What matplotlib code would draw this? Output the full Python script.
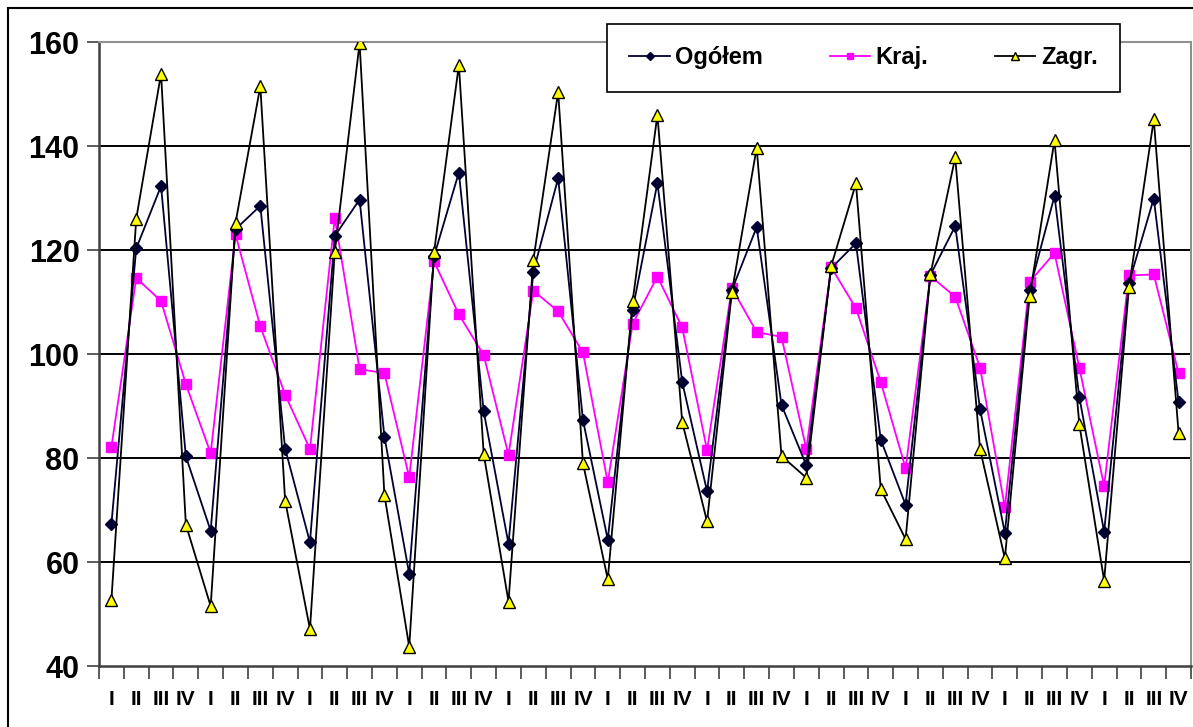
import matplotlib
matplotlib.use("Agg")
import matplotlib.pyplot as plt
from matplotlib.patches import Rectangle
import numpy as np

quarters = ["I", "II", "III", "IV"] * 11

ogolem = [67.3, 120.3, 132.3, 80.3, 66.0, 124.0, 128.5, 81.8, 63.8, 122.7, 129.7, 84.1,
          57.7, 118.8, 134.9, 89.0, 63.5, 115.8, 133.8, 87.3, 64.3, 108.5, 132.9, 94.6,
          73.6, 112.3, 124.4, 90.2, 78.6, 116.5, 121.3, 83.5, 71.0, 115.2, 124.6, 89.4,
          65.6, 112.4, 130.4, 91.7, 65.8, 113.7, 129.9, 90.8]

kraj = [82.1, 114.6, 110.2, 94.2, 80.9, 123.0, 105.3, 92.2, 81.7, 126.2, 97.1, 96.3,
        76.3, 117.8, 107.6, 99.8, 80.6, 112.2, 108.2, 100.3, 75.3, 105.8, 114.9, 105.1,
        81.5, 112.7, 104.2, 103.3, 81.7, 116.7, 108.8, 94.6, 78.0, 115.0, 111.0, 97.4,
        70.5, 113.9, 119.4, 97.4, 74.6, 115.1, 115.3, 96.3]

zagr = [52.7, 126.0, 153.9, 67.2, 51.5, 125.2, 151.5, 71.8, 47.1, 119.6, 159.8, 72.9,
        43.7, 119.6, 155.6, 80.8, 52.4, 118.0, 150.4, 79.0, 56.7, 110.1, 146.0, 86.9,
        67.8, 111.9, 139.7, 80.4, 76.2, 116.9, 132.8, 74.0, 64.4, 115.3, 137.8, 81.7,
        60.7, 111.2, 141.1, 86.5, 56.4, 112.8, 145.1, 84.8]

series_names = ["Ogółem", "Kraj.", "Zagr."]
y_ticks = [40, 60, 80, 100, 120, 140, 160]

W, H = 1193, 727
fig = plt.figure(figsize=(W / 100, H / 100), dpi=100)
ax = fig.add_axes([99 / W, 1 - 666 / H, (1191 - 99) / W, (666 - 42) / H])

x = np.arange(len(quarters))

ax.plot(x, ogolem, color="#000033", lw=1.3, marker="D", ms=6.5,
        mfc="#000033", mec="#000033", label=series_names[0], zorder=4)
ax.plot(x, kraj, color="#FF00FF", lw=1.3, marker="s", ms=6.5,
        mfc="#FF00FF", mec="#FF00FF", label=series_names[1], zorder=3)
ax.plot(x, zagr, color="black", lw=1.3, marker="^", ms=8,
        mfc="#FFFF00", mec="black", mew=1.0, label=series_names[2], zorder=5)

ax.set_xlim(-0.5, len(quarters) - 0.5)
ax.set_ylim(40, 160)

for v in y_ticks[1:-1]:
    ax.axhline(v, color="black", lw=1.4, zorder=1)

ax.set_yticks(y_ticks)
ax.set_yticklabels([str(v) for v in y_ticks], fontsize=22, fontweight="bold",
                   family=["Liberation Sans", "DejaVu Sans"])
ax.tick_params(axis="y", length=9, width=1.2, color="#404040", pad=5)

ax.set_xticks(np.arange(-0.5, len(quarters), 1.0))
ax.set_xticklabels([])
ax.tick_params(axis="x", which="major", length=9, width=1.2, color="#404040")
ax.set_xticks(x, minor=True)
ax.set_xticklabels(quarters, minor=True, fontsize=15, fontweight="bold",
                   family=["Liberation Sans Narrow", "Liberation Sans", "DejaVu Sans"])
ax.tick_params(axis="x", which="minor", length=0, pad=17)

for s in ["left", "bottom"]:
    ax.spines[s].set_color("#404040")
    ax.spines[s].set_linewidth(1.8)
for s in ["top", "right"]:
    ax.spines[s].set_color("#909090")
    ax.spines[s].set_linewidth(1.5)

leg = ax.legend(loc="upper left",
                bbox_to_anchor=(607 / W, 1 - 24 / H, (1120 - 607) / W, 0.0),
                bbox_transform=fig.transFigure,
                ncol=3, mode="expand", frameon=True, fancybox=False, borderaxespad=0,
                prop={"family": ["Liberation Sans", "DejaVu Sans"], "weight": "bold", "size": 17},
                handlelength=1.7, handletextpad=0.25, columnspacing=1.5, markerscale=0.7,
                borderpad=0.95)
leg.get_frame().set_edgecolor("black")
leg.get_frame().set_linewidth(1.2)
leg.get_frame().set_alpha(1.0)
leg.set_zorder(10)

fig.patches.append(Rectangle((8 / W, -0.1), 1.2, 1 - 8 / H + 0.1, transform=fig.transFigure,
                             fill=False, edgecolor="black", lw=1.5))

fig.savefig("out.png", dpi=100)
